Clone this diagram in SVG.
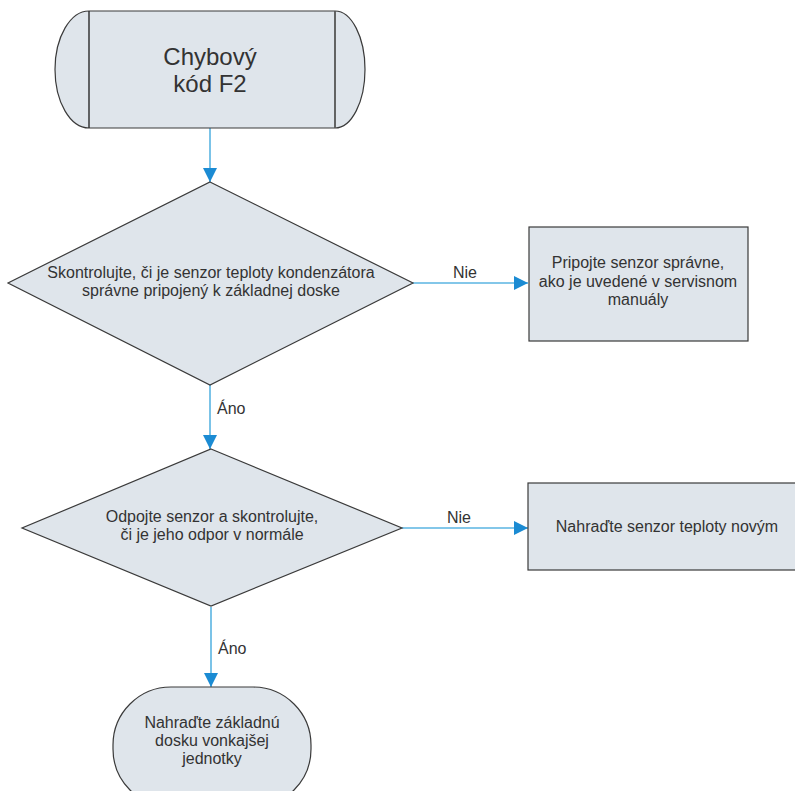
<svg xmlns="http://www.w3.org/2000/svg" width="795" height="791" viewBox="0 0 795 791">
  <style>
    .shape { fill: #dfe5eb; stroke: #3a3a3a; stroke-width: 1.2; }
    .txt { font-family: "Liberation Sans", Arial, sans-serif; font-size: 16px; fill: #333333; text-anchor: middle; }
    .big { font-size: 24px; }
    .lbl { font-family: "Liberation Sans", Arial, sans-serif; font-size: 16px; fill: #333333; }
    .flow { fill: none; stroke: #5ab4e2; stroke-width: 1.6; }
  </style>
  <defs>
    <marker id="arrow" viewBox="0 0 14 14" refX="14" refY="7" markerWidth="14" markerHeight="14" markerUnits="userSpaceOnUse" orient="auto">
      <path d="M0,0 L14,7 L0,14 Z" fill="#1b8bd3"/>
    </marker>
  </defs>

  <rect width="795" height="791" fill="#ffffff"/>

  <!-- connectors -->
  <g id="connectors">
    <path class="flow" d="M210,128 V182" marker-end="url(#arrow)"/>
    <path class="flow" d="M413,283 H528" marker-end="url(#arrow)"/>
    <text class="lbl" x="453" y="278">Nie</text>
    <path class="flow" d="M210,385 V449" marker-end="url(#arrow)"/>
    <text class="lbl" x="217" y="414">Áno</text>
    <path class="flow" d="M402,528 H528" marker-end="url(#arrow)"/>
    <text class="lbl" x="447" y="523">Nie</text>
    <path class="flow" d="M211,607 V687" marker-end="url(#arrow)"/>
    <text class="lbl" x="218" y="654">Áno</text>
  </g>

  <!-- start terminator -->
  <g id="start">
    <path class="shape" d="M89,11 H335 A30,58.5 0 0 1 335,128 H89 A34,58.5 0 0 1 89,11 Z"/>
    <line x1="89" y1="11" x2="89" y2="128" stroke="#2a2a2a" stroke-width="1.4"/>
    <line x1="335" y1="11" x2="335" y2="128" stroke="#555555" stroke-width="1.8"/>
    <text class="txt big" x="210" y="65">Chybový</text>
    <text class="txt big" x="210" y="92">kód F2</text>
  </g>

  <!-- decision: sensor connection -->
  <g id="check-connection">
    <polygon class="shape" points="210,182 413,283 210,385 8,283"/>
    <text class="txt" x="211" y="278">Skontrolujte, či je senzor teploty kondenzátora</text>
    <text class="txt" x="211" y="296">správne pripojený k základnej doske</text>
  </g>

  <!-- process: reconnect sensor -->
  <g id="reconnect">
    <rect class="shape" x="529" y="227" width="219" height="114"/>
    <text class="txt" x="638" y="268">Pripojte senzor správne,</text>
    <text class="txt" x="638" y="287">ako je uvedené v servisnom</text>
    <text class="txt" x="638" y="305">manuály</text>
  </g>

  <!-- decision: sensor resistance -->
  <g id="check-resistance">
    <polygon class="shape" points="211,449 402,528 211,606 22,528"/>
    <text class="txt" x="212" y="522">Odpojte senzor a skontrolujte,</text>
    <text class="txt" x="212" y="540">či je jeho odpor v normále</text>
  </g>

  <!-- process: replace sensor -->
  <g id="replace-sensor">
    <rect class="shape" x="528" y="483" width="280" height="87"/>
    <text class="txt" x="667" y="532">Nahraďte senzor teploty novým</text>
  </g>

  <!-- end terminator -->
  <g id="replace-board">
    <rect class="shape" x="113" y="687" width="198" height="120" rx="58" ry="58"/>
    <text class="txt" x="212" y="728">Nahraďte základnú</text>
    <text class="txt" x="212" y="746">dosku vonkajšej</text>
    <text class="txt" x="212" y="764">jednotky</text>
  </g>
</svg>
